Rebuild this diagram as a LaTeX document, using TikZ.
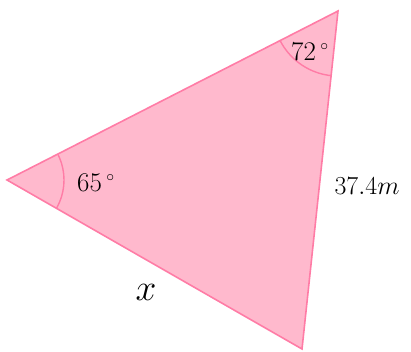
\documentclass[tikz,border=0pt]{standalone}
\usepackage{tikz}
\usetikzlibrary{positioning}
\definecolor{pinkfill}{HTML}{FFB9CD}
\definecolor{pinkline}{HTML}{FF7CA6}
\tikzset{
  sideline/.style={draw=pinkline, line width=1.6pt, line join=miter},
  anglearc/.style={draw=pinkline, line width=1.4pt},
  anglelabel/.style={font=\huge, inner sep=0pt, transform shape, scale=1.3},
  sidelabel/.style={font=\huge, inner sep=0pt, transform shape, scale=1.25}
}
\begin{document}
\begin{tikzpicture}[x=1pt, y=-1pt]
\useasboundingbox (0,0) rectangle (411,352);

% vertices
\coordinate (L) at (7,180);
\coordinate (T) at (338,11);
\coordinate (B) at (302,349);

% triangle
\fill[pinkfill] (L) -- (T) -- (B) -- cycle;

% angle arcs
\begin{scope}
  \clip (L) -- (T) -- (B) -- cycle;
  \draw[anglearc] (L) circle[radius=57];
  \draw[anglearc] (T) circle[radius=65];
\end{scope}
\draw[sideline] (L) -- (T) -- (B) -- cycle;

% labels
\node[anglelabel] (a65) at (96,183) {$65\,^{\scriptscriptstyle\circ}$};
\node[anglelabel] (a72) at (310,52) {$72\,^{\scriptscriptstyle\circ}$};
\node[sidelabel] (side) at (367,186) {$37.4m$};
\node[font=\Huge, inner sep=0pt, transform shape, scale=1.5] (xlab) at (146,292) {$x$};

\end{tikzpicture}
\end{document}
